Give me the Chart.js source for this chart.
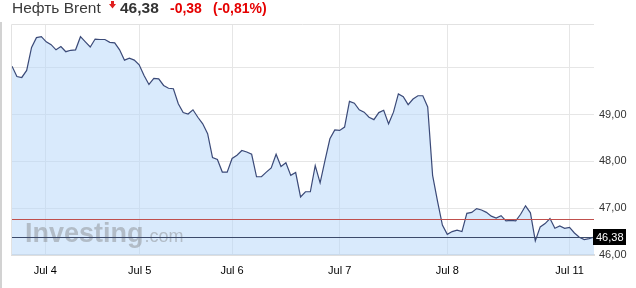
<!DOCTYPE html>
<html><head><meta charset="utf-8">
<script src="https://cdn.jsdelivr.net/npm/chart.js@4.4.1/dist/chart.umd.min.js"></script>
<style>
html,body{margin:0;padding:0;background:#fff;width:636px;height:288px;overflow:hidden;font-family:"Liberation Sans",Arial,sans-serif;}
#wrap{position:relative;width:636px;height:288px;}
#c{position:absolute;left:0;top:0;}
.t{position:absolute;top:0;white-space:nowrap;line-height:16px;}
#leftbar{position:absolute;left:0;top:22px;width:2px;height:266px;background:#d2d2d2;}
</style></head><body>
<div id="wrap">
<div id="leftbar"></div>
<canvas id="c" width="636" height="288"></canvas>
<div class="t" id="name" style="left:12px;font-size:15.5px;color:#3a3a3a;">Нефть Brent</div>
<svg style="position:absolute;left:109px;top:1px" width="7" height="8"><polygon points="2,0 5,0 5,3 7,3 3.5,7.5 0,3 2,3" fill="#e02020"/></svg>
<div class="t" id="last" style="left:120px;font-size:15.5px;font-weight:bold;color:#333;"></div>
<div class="t" id="chg" style="left:170px;font-size:14px;font-weight:bold;color:#e50000;"></div>
<div class="t" id="pct" style="left:213px;font-size:14px;font-weight:bold;color:#e50000;"></div>
</div>
<script>
const prices = [
50.03,49.81,49.79,49.94,50.43,50.64,50.66,50.55,50.49,50.38,
50.45,50.34,50.37,50.38,50.66,50.55,50.44,50.61,50.60,50.60,
50.54,50.53,50.38,50.16,50.20,50.16,50.06,49.83,49.64,49.77,
49.76,49.62,49.56,49.55,49.23,49.04,49.01,49.10,48.94,48.80,
48.59,48.08,48.04,47.77,47.77,48.06,48.13,48.23,48.20,48.15,
47.67,47.67,47.77,47.86,48.15,47.89,47.97,47.70,47.76,47.24,
47.35,47.35,47.91,47.54,48.02,48.48,48.67,48.66,48.73,49.28,
49.24,49.10,49.05,48.94,48.89,49.04,49.09,48.80,49.05,49.44,
49.38,49.21,49.33,49.40,49.40,49.16,47.70,47.15,46.64,46.44,
46.50,46.53,46.50,46.89,46.91,46.99,46.96,46.91,46.83,46.79,
46.84,46.73,46.74,46.73,46.87,47.05,46.90,46.30,46.60,46.67,
46.78,46.57,46.62,46.57,46.59,46.47,46.38,46.33,46.35,46.38
];
const dayTickPos = [6.8, 26.1, 45, 67, 89, 114];
const dayTickLabels = ['Jul 4','Jul 5','Jul 6','Jul 7','Jul 8','Jul 11'];
const yTicks = [46, 47, 48, 49, 50];
const yMin = 46, yMax = 50.91;
const lastPrice = 46.38;
const prevClose = 46.76;

const fmt = v => v.toFixed(2).replace('.', ',');
const change = lastPrice - prevClose;
document.getElementById('last').textContent = fmt(lastPrice);
document.getElementById('chg').textContent = (change < 0 ? '-' : '+') + fmt(Math.abs(change));
document.getElementById('pct').textContent = '(' + (change < 0 ? '-' : '+') + fmt(Math.abs(change / prevClose * 100)) + '%)';

const decor = {
  id: 'decor',
  beforeDatasetsDraw(chart) {
    const {ctx, chartArea: a} = chart;
    ctx.save();
    ctx.strokeStyle = '#e2e2e2';
    ctx.lineWidth = 1;
    ctx.beginPath();
    ctx.moveTo(a.left - 0.5, a.bottom);
    ctx.lineTo(a.left - 0.5, a.top - 0.5);
    ctx.lineTo(a.right, a.top - 0.5);
    ctx.stroke();
    ctx.restore();
  },
  afterDatasetsDraw(chart) {
    const {ctx, chartArea: a, scales} = chart;
    ctx.save();
    // watermark
    ctx.fillStyle = 'rgba(120,120,120,0.4)';
    ctx.textBaseline = 'alphabetic';
    ctx.font = 'bold 27px "Liberation Sans", Arial, sans-serif';
    ctx.fillText('Investing', 25, 241.5);
    const w = ctx.measureText('Investing').width;
    ctx.font = '18px "Liberation Sans", Arial, sans-serif';
    ctx.fillText('.com', 25 + w + 1, 241.5);
    // previous close line
    const yp = Math.round(scales.y.getPixelForValue(prevClose)) + 0.5;
    ctx.strokeStyle = '#c0504d';
    ctx.lineWidth = 1;
    ctx.beginPath(); ctx.moveTo(a.left, yp); ctx.lineTo(a.right, yp); ctx.stroke();
    // last price line
    const yl = Math.round(scales.y.getPixelForValue(lastPrice)) + 0.5;
    ctx.strokeStyle = '#3c4a6a';
    ctx.beginPath(); ctx.moveTo(a.left, yl); ctx.lineTo(a.right, yl); ctx.stroke();
    // price box
    ctx.fillStyle = '#000';
    ctx.fillRect(a.right - 1, yl - 8.5, 33, 16);
    ctx.fillStyle = '#fff';
    ctx.font = '11px "Liberation Sans", Arial, sans-serif';
    ctx.textBaseline = 'middle';
    ctx.fillText(fmt(lastPrice), a.right + 2, yl);
    ctx.restore();
  }
};

new Chart(document.getElementById('c'), {
  type: 'line',
  data: {
    datasets: [{
      data: prices.map((v, i) => ({x: i, y: v})),
      borderColor: '#3b4a78',
      borderWidth: 1.2,
      backgroundColor: 'rgba(180,213,250,0.5)',
      fill: 'start',
      pointRadius: 0,
      tension: 0
    }]
  },
  options: {
    responsive: false,
    animation: false,
    layout: {padding: {left: 12, top: 25, right: 0, bottom: 0}},
    plugins: {legend: {display: false}, tooltip: {enabled: false}},
    scales: {
      x: {
        type: 'linear',
        min: 0,
        max: prices.length - 1,
        afterBuildTicks: s => { s.ticks = dayTickPos.map(v => ({value: v})); },
        afterFit: s => { s.height = 33; },
        grid: {color: '#e6e6e6', drawTicks: false},
        border: {display: true, color: '#dedede', width: 2},
        ticks: {
          autoSkip: false, maxRotation: 0, padding: 9,
          color: '#000',
          font: {family: '"Liberation Sans", Arial, sans-serif', size: 11},
          callback: (v, i) => dayTickLabels[i]
        }
      },
      y: {
        position: 'right',
        min: yMin,
        max: yMax,
        afterBuildTicks: s => { s.ticks = yTicks.map(v => ({value: v})); },
        afterFit: s => { s.width = 42; },
        grid: {color: '#e6e6e6', drawTicks: false},
        border: {display: false},
        ticks: {
          padding: 5,
          color: '#333',
          font: {family: '"Liberation Sans", Arial, sans-serif', size: 11},
          callback: v => v === 50 ? '' : fmt(v)
        }
      }
    }
  },
  plugins: [decor]
});
</script>
</body></html>
